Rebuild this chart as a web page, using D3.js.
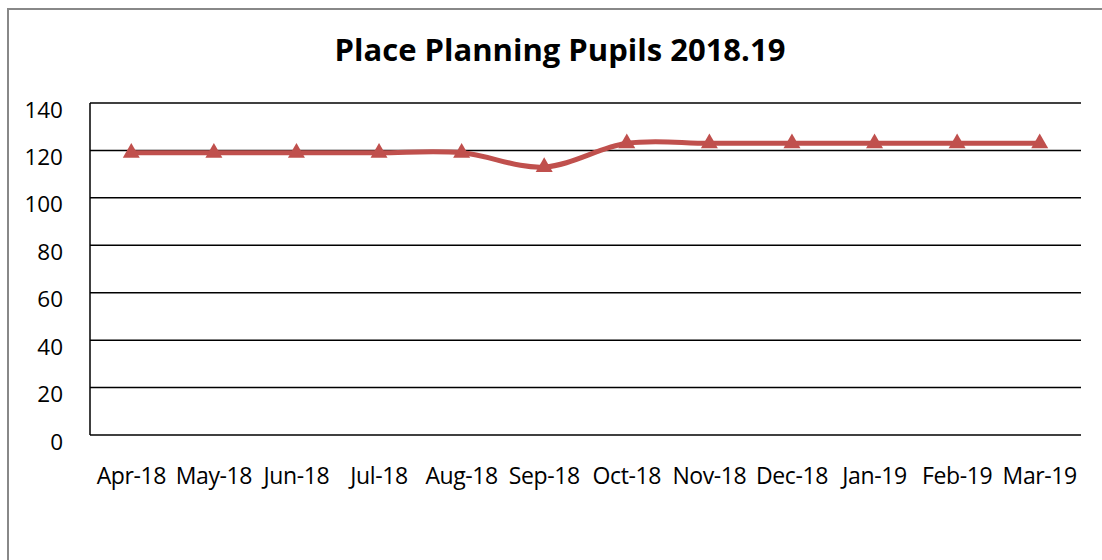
<!DOCTYPE html>
<html><head><meta charset="utf-8">
<script src="https://cdn.jsdelivr.net/npm/d3@7"></script>
<style>body{margin:0;background:#fff}svg{display:block}</style>
</head><body>
<svg id="c" width="1102" height="560"></svg>
<script>
const categories = ["Apr-18","May-18","Jun-18","Jul-18","Aug-18","Sep-18","Oct-18","Nov-18","Dec-18","Jan-19","Feb-19","Mar-19"];
const pupils = [119,119,119,119,119,113,123,123,123,123,123,123];
const yTicks = [0,20,40,60,80,100,120,140];
const title = "Place Planning Pupils 2018.19";

const svg = d3.select("#c");
const font = "'Open Sans', 'Noto Sans', sans-serif";
// outer border
svg.append("path").attr("d","M8,560 L8,9 L1102,9").attr("fill","none").attr("stroke","#888").attr("stroke-width",2);

const m = {l:90, r:1081, t:103, b:435};
const x = d3.scaleBand().domain(categories).range([m.l,m.r]);
const y = d3.scaleLinear().domain([0,140]).range([m.b,m.t]);

// gridlines
svg.append("g").selectAll("line").data(yTicks).join("line")
  .attr("x1",m.l).attr("x2",m.r).attr("y1",d=>y(d)).attr("y2",d=>y(d))
  .attr("stroke","#000").attr("stroke-width",1.5);
svg.append("line").attr("x1",m.l).attr("x2",m.l).attr("y1",m.t).attr("y2",m.b).attr("stroke","#000").attr("stroke-width",1.5);

// y labels
svg.append("g").selectAll("text").data(yTicks).join("text")
  .attr("x",63).attr("y",d=>y(d)+14.5).attr("text-anchor","end")
  .attr("font-family",font).attr("font-size",22.5).attr("fill","#000").text(d=>d);

// x labels
svg.append("g").selectAll("text").data(categories).join("text")
  .attr("x",d=>x(d)+x.bandwidth()/2).attr("y",484).attr("text-anchor","middle")
  .attr("font-family",font).attr("font-size",23).attr("letter-spacing",-0.4).attr("fill","#000").text(d=>d);

// title
svg.append("text").attr("x",560).attr("y",61).attr("text-anchor","middle")
  .attr("font-family",font).attr("font-weight","bold").attr("font-size",31).attr("fill","#000").text(title);

const pts = categories.map((c,i)=>[x(c)+x.bandwidth()/2, y(pupils[i])]);
svg.append("path").attr("d", d3.line().curve(d3.curveCatmullRom.alpha(0))(pts))
  .attr("fill","none").attr("stroke","#C0504D").attr("stroke-width",5);
const tri = d3.symbol().type(d3.symbolTriangle).size(125);
svg.append("g").selectAll("path").data(pts).join("path")
  .attr("transform",d=>`translate(${d[0]},${d[1]})`).attr("d",tri).attr("fill","#C0504D");
</script>
</body></html>
